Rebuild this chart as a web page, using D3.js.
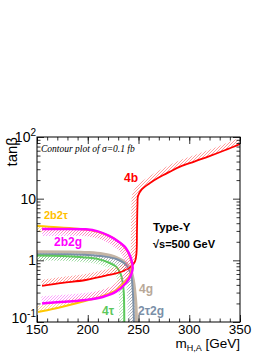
<!DOCTYPE html>
<html>
<head>
<meta charset="utf-8">
<script src="https://cdn.jsdelivr.net/npm/d3@7"></script>
<style>
  body { margin: 0; background: #fff; }
  svg { display: block; font-family: "Liberation Sans", Arial, sans-serif; }
</style>
</head>
<body>
<svg id="chart"></svg>
<script>
// tick values
const xMajor = [150, 200, 250, 300, 350];
const xMinor = d3.range(150, 351, 10);
const yMajor = [0.1, 1, 10, 100];
const yMinor = [0.2,0.3,0.4,0.5,0.6,0.7,0.8,0.9,2,3,4,5,6,7,8,9,20,30,40,50,60,70,80,90];
const yLabels = [["10", "-1"], ["1", ""], ["10", ""], ["10", "2"]];

// contour curves, [m_H,A, tanBeta]
const curve4b = [[155,0.385],[175,0.43],[198,0.48],[221,0.58],[234,0.66],[242.5,0.79],[246.5,0.95],[248,1.3],[248.5,3],[249,8],[249.5,11],[253,14],[261,17.8],[270,22],[281,27.4],[291,33],[305,40],[320,49],[335,61],[350,77]];
const curve2b2g = [[155,3.23],[175,3.23],[198,3.18],[210,2.95],[220,2.55],[228,2.14],[237.5,1.59],[242.5,1.09],[244.3,0.75],[242.6,0.58],[237.7,0.43],[227.8,0.31],[214.7,0.255],[198,0.228],[180,0.215],[160,0.204],[155,0.2]];
const curve2b2tau = [[150,3.6],[170,3.45],[190,3.25],[205,3.02],[217,2.65],[227,2.2],[236,1.65],[241.5,1.15],[243.5,0.8],[242,0.6],[237,0.45],[228,0.33],[215,0.265],[200,0.225],[180,0.185],[160,0.155],[151,0.145]];
const curve4g = [[150,1.38],[180,1.37],[200,1.34],[215,1.27],[228,1.12],[237,0.92],[242,0.72],[245,0.47],[246.5,0.3],[247.5,0.19],[248,0.1]];
const curve2tau2g = [[150,1.26],[180,1.25],[200,1.22],[215,1.16],[228,1.05],[237.5,0.85],[242.5,0.6],[244.3,0.33],[245,0.2],[245.5,0.1]];
const curve4tau = [[150,1.2],[175,1.18],[195,1.12],[210,1.05],[220,0.93],[228,0.79],[232.5,0.6],[234.5,0.43],[235.5,0.3],[236,0.1]];

document.addEventListener('DOMContentLoaded', function () {
    const svg = d3.select('#chart').attr("width", 273).attr("height", 353);

    // plot frame
    var left = 37, right = 240, top = 137, bottom = 322;

    const x = d3.scaleLinear().domain([150, 350]).range([left, right]);
    const y = d3.scaleLog().domain([0.1, 100]).range([bottom, top]);

    const defs = svg.append("defs");
    defs.append("clipPath").attr("id", "plotclip")
        .append("rect").attr("x", left).attr("y", top)
        .attr("width", right - left).attr("height", bottom - top);

    // hatch patterns (light, like the original)
    function addHatch(id, color) {
        const p = defs.append("pattern").attr("id", id)
            .attr("patternUnits", "userSpaceOnUse")
            .attr("width", 3).attr("height", 3);
        p.append("path").attr("d", "M-1,1 l2,-2 M0,3 l3,-3 M2,4 l2,-2")
            .attr("stroke", color).attr("stroke-width", 0.8)
            .attr("stroke-opacity", 0.55);
    }

    const line = d3.line()
        .x(d => x(d[0]))
        .y(d => y(d[1]))
        .curve(d3.curveCatmullRom.alpha(0.5));

    const plot = svg.append("g").attr("clip-path", "url(#plotclip)");

    // draw a contour with a hatched band on one side (side 1 = left of travel, -1 = right)
    function contour(data, color, hatchColor, lw, bandW, side, id) {
        addHatch(id, hatchColor);
        const g = plot.append("g");
        const band = g.append("path");
        const path = g.append("path")
            .attr("d", line(data))
            .attr("fill", "none")
            .attr("stroke", color)
            .attr("stroke-width", lw);
        const node = path.node(), L = node.getTotalLength();
        const n = Math.max(2, Math.ceil(L / 1.5));
        const pts = d3.range(n + 1).map(i => node.getPointAtLength(L * i / n));
        const off = pts.map((p, i) => {
            const a = pts[Math.max(0, i - 2)], b = pts[Math.min(n, i + 2)];
            const dx = b.x - a.x, dy = b.y - a.y, len = Math.hypot(dx, dy) || 1;
            return [p.x + side * bandW * dy / len, p.y - side * bandW * dx / len];
        });
        const poly = pts.map(p => [p.x, p.y]).concat(off.reverse());
        band.attr("d", "M" + poly.join("L") + "Z").attr("fill", "url(#" + id + ")");
    }

    contour(curve4g, "#c4b5a5", "#a89888", 3, 6, -1, "h4g");
    contour(curve2tau2g, "#7b90a8", "#6f8399", 2, 6, -1, "h2t2g");
    contour(curve4tau, "#5cc85c", "#55cc55", 2, 5, -1, "h4t");
    contour(curve4b, "#ff0000", "#ff2222", 1.8, 6, 1, "h4b");
    contour(curve2b2tau, "#ffc800", "#ffaa00", 2, 6, -1, "h2b2t");
    contour(curve2b2g, "#ff00ff", "#ff22ff", 2.5, 7, -1, "h2b2g");

    // ticks inside on all four sides
    function noLabel(axis) { return axis.tickFormat(""); }
    svg.append("g").attr("transform", `translate(0,${bottom})`)
        .call(noLabel(d3.axisBottom(x).tickValues(xMajor).tickSize(-7).tickSizeOuter(0)));
    svg.append("g").attr("transform", `translate(0,${bottom})`)
        .call(noLabel(d3.axisBottom(x).tickValues(xMinor).tickSize(-3.5).tickSizeOuter(0)));
    svg.append("g").attr("transform", `translate(0,${top})`)
        .call(noLabel(d3.axisTop(x).tickValues(xMajor).tickSize(-7).tickSizeOuter(0)));
    svg.append("g").attr("transform", `translate(0,${top})`)
        .call(noLabel(d3.axisTop(x).tickValues(xMinor).tickSize(-3.5).tickSizeOuter(0)));
    svg.append("g").attr("transform", `translate(${left},0)`)
        .call(noLabel(d3.axisLeft(y).tickValues(yMajor).tickSize(-7).tickSizeOuter(0)));
    svg.append("g").attr("transform", `translate(${left},0)`)
        .call(noLabel(d3.axisLeft(y).tickValues(yMinor).tickSize(-3.5).tickSizeOuter(0)));
    svg.append("g").attr("transform", `translate(${right},0)`)
        .call(noLabel(d3.axisRight(y).tickValues(yMajor).tickSize(-7).tickSizeOuter(0)));
    svg.append("g").attr("transform", `translate(${right},0)`)
        .call(noLabel(d3.axisRight(y).tickValues(yMinor).tickSize(-3.5).tickSizeOuter(0)));
    svg.selectAll(".domain").remove();
    svg.selectAll(".tick line").attr("stroke", "#000").attr("stroke-width", 0.8);

    // frame
    svg.append("rect").attr("x", left).attr("y", top)
        .attr("width", right - left).attr("height", bottom - top)
        .attr("fill", "none").attr("stroke", "#000").attr("stroke-width", 1);

    // x tick labels
    svg.selectAll(".xlab").data(xMajor).enter().append("text")
        .attr("x", d => x(d)).attr("y", bottom + 12)
        .attr("text-anchor", "middle")
        .style("font-size", "13.5px")
        .text(d => d);

    // y tick labels with exponents (lowest one nudged up, clear of "150")
    yMajor.forEach((v, i) => {
        const t = svg.append("text")
            .attr("x", left - 1).attr("y", y(v) + (i === 0 ? 1 : 5))
            .attr("text-anchor", "end")
            .style("font-size", "14px");
        t.append("tspan").text(yLabels[i][0]);
        if (yLabels[i][1]) {
            t.append("tspan").attr("dy", -6).style("font-size", "10px").text(yLabels[i][1]);
        }
    });

    // axis titles
    const xt = svg.append("text").attr("x", right).attr("y", 348)
        .attr("text-anchor", "end").style("font-size", "13.5px");
    xt.append("tspan").text("m");
    xt.append("tspan").attr("dy", 3).style("font-size", "9px").text("H,A");
    xt.append("tspan").attr("dy", -3).text(" [GeV]");

    svg.append("text")
        .attr("transform", "rotate(-90)")
        .attr("x", -top).attr("y", 17)
        .attr("text-anchor", "end")
        .style("font-size", "15px")
        .text("tanβ");

    // annotations
    svg.append("text").attr("x", 41).attr("y", 152)
        .style("font-family", "'Liberation Serif', 'DejaVu Serif', serif")
        .style("font-style", "italic").style("font-size", "9.5px")
        .text("Contour plot of σ=0.1 fb");

    function label(txt, lx, ly, color, size) {
        svg.append("text").attr("x", lx).attr("y", ly)
            .attr("fill", color).attr("font-weight", "bold")
            .style("font-size", size + "px").text(txt);
    }
    label("4b", 124, 182, "#ff0000", 12);
    label("2b2τ", 44, 219, "#ffc000", 11);
    label("2b2g", 54, 246, "#ff00ff", 12);
    label("Type-Y", 153, 231, "#000", 11.5);
    label("√s=500 GeV", 153, 248, "#000", 11);
    label("4g", 139, 293, "#b8a898", 12);
    label("2τ2g", 138, 315, "#7b90a8", 12);
    label("4τ", 102, 315, "#5cc85c", 12);
});
</script>
</body>
</html>
